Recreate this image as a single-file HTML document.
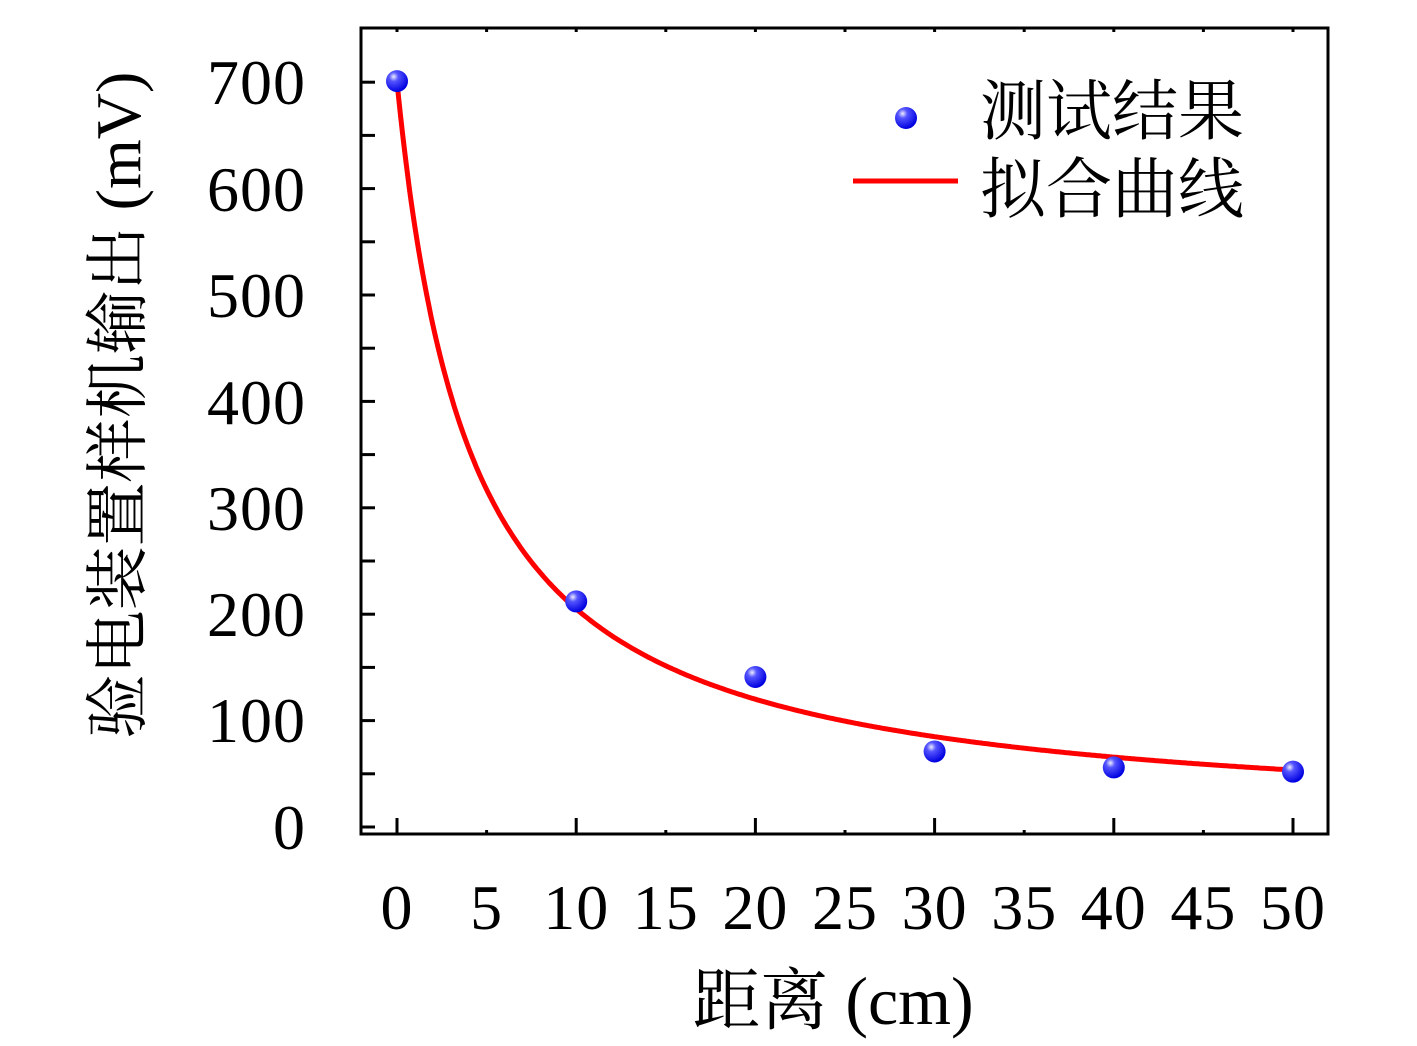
<!DOCTYPE html>
<html><head><meta charset="utf-8"><style>
html,body{margin:0;padding:0;background:#fff;}
svg{display:block;}
text{font-family:"Liberation Serif","Noto Serif CJK SC",serif;fill:#000;}
</style></head><body>
<svg id="s" width="1417" height="1046" viewBox="0 0 1417 1046" xmlns="http://www.w3.org/2000/svg">
<defs>
<radialGradient id="g" cx="0.35" cy="0.3" r="0.7">
<stop offset="0" stop-color="#eef"/><stop offset="0.3" stop-color="#55f"/><stop offset="1" stop-color="#0000e0"/>
</radialGradient>
</defs>
<rect x="361" y="28" width="967" height="806" fill="none" stroke="#000" stroke-width="3"/>
<g id="ticks" stroke="#000" stroke-width="3"></g>
<path id="curve" fill="none" stroke="#f00" stroke-width="5"/>
<g id="pts"></g>
<g font-size="64" text-anchor="end" letter-spacing="1">
<text x="306" y="104">700</text><text x="306" y="211">600</text><text x="306" y="317">500</text>
<text x="306" y="424">400</text><text x="306" y="530">300</text><text x="306" y="636">200</text>
<text x="306" y="742">100</text><text x="306" y="849">0</text>
</g>
<g id="xl" font-size="64" text-anchor="middle" letter-spacing="1"></g>
<text x="833" y="1024" font-size="68" text-anchor="middle">距离 (cm)</text>
<text transform="translate(140,405) rotate(-90)" font-size="64" text-anchor="middle">验电装置样机输出 (mV)</text>
<circle cx="906" cy="118" r="11" fill="url(#g)"/>
<line x1="853" y1="181" x2="958" y2="181" stroke="#f00" stroke-width="5"/>
<text x="980" y="134" font-size="66">测试结果</text>
<text x="980" y="212" font-size="66">拟合曲线</text>
</svg>
<script>
var X=function(v){return 397+v*17.92},Y=function(v){return 827-v*1.064};
var t=document.getElementById('ticks'),h='';
for(var v=0;v<=700;v+=50)h+='<line x1="361" x2="375" y1="'+Y(v)+'" y2="'+Y(v)+'"/>';
for(var v=0;v<=50;v+=5){var x=X(v);h+=v%10==0?'<line x1="'+x+'" x2="'+x+'" y1="834" y2="818"/>':'<line x1="'+x+'" x2="'+x+'" y1="834" y2="830"/>';
h+='<line x1="'+x+'" x2="'+x+'" y1="28" y2="32"/>';}
t.innerHTML=h;
var xl='';for(var v=0;v<=50;v+=5)xl+='<text x="'+X(v)+'" y="929">'+v+'</text>';
document.getElementById('xl').innerHTML=xl;
var d='';for(var i=0;i<=500;i++){var x=i/10,y=2899/(x+4.14);d+=(i?'L':'M')+X(x).toFixed(1)+','+Y(y).toFixed(1);}
document.getElementById('curve').setAttribute('d',d);
var p=[[0,701],[10,212],[20,141],[30,71],[40,56],[50,52]],ph='';
p.forEach(function(q){ph+='<circle cx="'+X(q[0])+'" cy="'+Y(q[1])+'" r="11" fill="url(#g)"/>';});
document.getElementById('pts').innerHTML=ph;
</script>
</body></html>
